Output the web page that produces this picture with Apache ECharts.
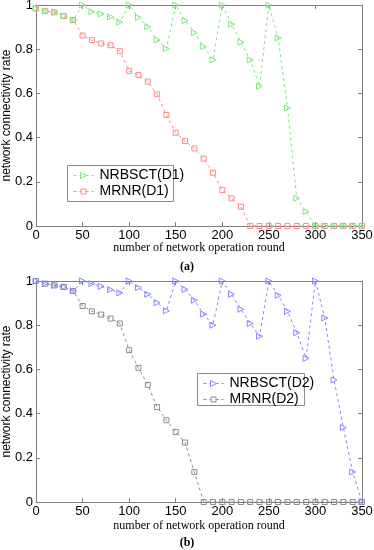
<!DOCTYPE html>
<html><head><meta charset="utf-8">
<script src="https://cdn.jsdelivr.net/npm/echarts@6/dist/echarts.min.js"></script>
<style>html,body{margin:0;padding:0;background:#fff}#c{width:374px;height:550px}</style>
</head><body><div id="c"></div>
<script>
const rounds = [0,10,20,30,40,50,60,70,80,90,100,110,120,130,140,150,160,170,180,190,200,210,220,230,240,250,260,270,280,290,300,310,320,330,340,350];
const xTicks = [0,50,100,150,200,250,300,350];
const yTicks = [0,0.2,0.4,0.6,0.8,1];
const nrbsctD1 = [0.985,0.973,0.967,0.95,0.932,1.0,0.97,0.96,0.947,0.923,1.0,0.944,0.902,0.842,0.803,1.0,0.93,0.875,0.812,0.752,1.0,0.913,0.832,0.752,0.632,1.0,0.851,0.534,0.125,0.065,0,0,0,0,0,0];
const mrnrD1 = [0.985,0.973,0.967,0.95,0.932,0.862,0.841,0.826,0.818,0.791,0.702,0.683,0.653,0.596,0.502,0.422,0.384,0.351,0.305,0.241,0.163,0.125,0.087,0,0,0,0,0,0,0,0,0,0,0,0,0];
const nrbsctD2 = [1.0,0.988,0.98,0.973,0.955,1.0,0.988,0.976,0.961,0.946,1.0,0.97,0.94,0.902,0.865,1.0,0.962,0.913,0.85,0.8,1.0,0.94,0.872,0.808,0.75,1.0,0.935,0.863,0.766,0.65,1.0,0.833,0.552,0.337,0.136,0];
const mrnrD2 = [1.0,0.988,0.98,0.973,0.955,0.887,0.863,0.848,0.83,0.808,0.687,0.607,0.53,0.43,0.37,0.317,0.269,0.136,0,0,0,0,0,0,0,0,0,0,0,0,0,0,0,0,0,0];
const legendA = ['NRBSCT(D1)','MRNR(D1)'];
const legendB = ['NRBSCT(D2)','MRNR(D2)'];
const xName = 'number of network operation round';
const yName = 'network connectivity rate';

const frame = '#7f7f7f';
function xAx(gi, pos, gap) {
  const main = pos === 'bottom';
  return {
    type:'value', gridIndex:gi, position:pos, min:xTicks[0], max:xTicks[xTicks.length-1], interval:xTicks[1]-xTicks[0],
    axisLine:{show:true, onZero:false, lineStyle:{color:frame, width:1}},
    axisTick:{show:true, inside:true, length:4, lineStyle:{color:frame}},
    axisLabel:{show:main, color:'#000', fontFamily:'Liberation Sans, Arial', fontSize:13, margin:3},
    splitLine:{show:false},
    name: main ? xName : '', nameLocation:'middle', nameGap:gap, nameMoveOverlap:false,
    nameTextStyle:{fontFamily:'Liberation Serif, Times New Roman', fontSize:12, color:'#000', verticalAlign:'top'}
  };
}
function yAx(gi, pos) {
  const main = pos === 'left';
  return {
    type:'value', gridIndex:gi, position:pos, min:yTicks[0], max:yTicks[yTicks.length-1], interval:0.2,
    axisLine:{show:true, onZero:false, lineStyle:{color:frame, width:1}},
    axisTick:{show:true, inside:true, length:4, lineStyle:{color:frame}},
    axisLabel:{show:main, color:'#000', fontFamily:'Liberation Sans, Arial', fontSize:13, margin:3,
      formatter: v => String(Math.round(v*10)/10)},
    splitLine:{show:false},
    name: main ? yName : '', nameLocation:'middle', nameGap:23, nameMoveOverlap:false,
    nameTextStyle:{fontFamily:'Liberation Sans, Arial', fontSize:12, color:'#000'}
  };
}
function ser(name, data, color, symbol, xi, yi) {
  return {
    name, type:'line', xAxisIndex:xi, yAxisIndex:yi,
    data: rounds.map((r,i)=>[r, data[i]]),
    symbol, symbolSize: symbol==='triangle'?6:5, symbolRotate: symbol==='triangle'?-90:0,
    lineStyle:{color, width:1, type:[3,3]},
    itemStyle:{color:'rgba(255,255,255,0)', borderColor:color, borderWidth:1},
    emphasis:{disabled:true}, animation:false, z: symbol==='triangle'?3:2
  };
}
const cGreen = '#7fe67f', cRed = '#ff8a8a', cBlue = '#8585ff', cGray = '#8c8c8c';
function legendBox(x, y, w, h, names, colors, symbols) {
  const children = [{type:'rect', shape:{x:0,y:0,width:w,height:h}, style:{fill:'#fff', stroke:'#8c8c8c', lineWidth:1}}];
  names.forEach((n,i)=>{
    const cy = 10 + i*16;
    children.push({type:'line', shape:{x1:6,y1:cy,x2:26,y2:cy}, style:{stroke:colors[i], lineWidth:1, lineDash:[3,3]}});
    if (symbols[i]==='triangle') {
      children.push({type:'polygon', shape:{points:[[13,cy-3],[19,cy],[13,cy+3]]}, style:{fill:'#fff', stroke:colors[i], lineWidth:1}});
    } else {
      children.push({type:'rect', shape:{x:13.5,y:cy-2.5,width:5,height:5}, style:{fill:'#fff', stroke:colors[i], lineWidth:1}});
    }
    children.push({type:'text', x:32, y:cy, style:{text:n, font:'14px "Liberation Sans"', fill:'#000', verticalAlign:'middle'}});
  });
  return {type:'group', x, y, children, z:100};
}
const chart = echarts.init(document.getElementById('c'), null, {renderer:'canvas'});
chart.setOption({
  animation:false,
  grid:[
    {left:36, right:12, top:5, height:221, containLabel:false, outerBoundsMode:'none'},
    {left:36, right:12, top:281, height:221, containLabel:false, outerBoundsMode:'none'}
  ],
  xAxis:[xAx(0,'bottom',16), xAx(0,'top',16), xAx(1,'bottom',18), xAx(1,'top',18)],
  yAxis:[yAx(0,'left'), yAx(0,'right'), yAx(1,'left'), yAx(1,'right')],
  series:[
    ser(legendA[1], mrnrD1, cRed, 'rect', 0, 0),
    ser(legendA[0], nrbsctD1, cGreen, 'triangle', 0, 0),
    ser(legendB[1], mrnrD2, cGray, 'rect', 2, 2),
    ser(legendB[0], nrbsctD2, cBlue, 'triangle', 2, 2)
  ],
  graphic:[
    {type:'text', left:'center', top:261, style:{text:'(a)', font:'bold 12px "Liberation Serif"', fill:'#000'}},
    {type:'text', left:'center', top:537, style:{text:'(b)', font:'bold 12px "Liberation Serif"', fill:'#000'}},
    legendBox(67.5, 165.5, 106, 36, legendA, [cGreen, cRed], ['triangle','rect']),
    legendBox(197.5, 373.5, 107, 32, legendB, [cBlue, cGray], ['triangle','rect'])
  ]
});
</script></body></html>
